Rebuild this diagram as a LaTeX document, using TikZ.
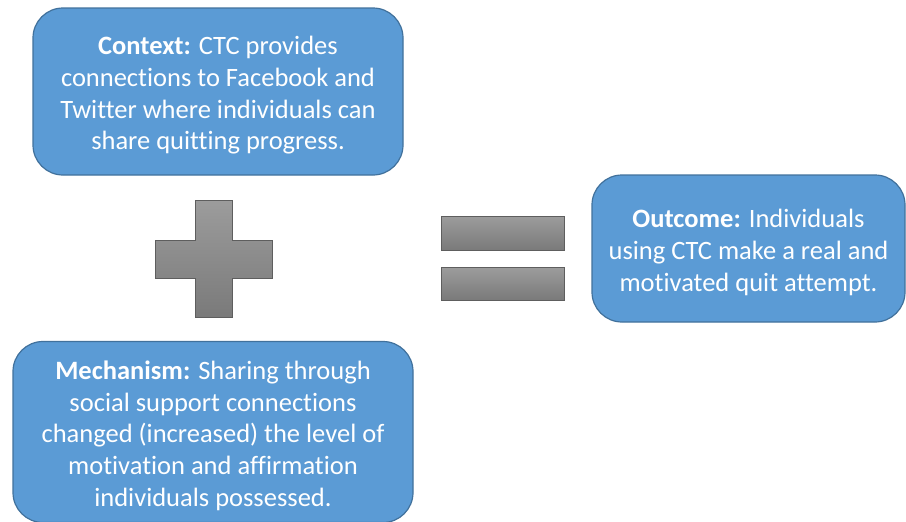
\documentclass[tikz,border=0pt]{standalone}
\usepackage{fontspec}
\setmainfont{Carlito}[Ligatures={NoCommon}]
% taller first line lowers the centred text block slightly
\newcommand{\toppad}{\rule{0pt}{26pt}}
\begin{document}
\begin{tikzpicture}[x=1pt,y=-1pt,
  infobox/.style={draw=boxedge, line width=1.2pt, fill=boxfill, rounded corners=30pt,
    text=white, align=center, inner sep=0pt, font=\fontsize{26.5}{31.8}\selectfont},
  opshape/.style={draw=opedge, line width=1pt, top color=optop, bottom color=opbottom}]
\definecolor{boxfill}{HTML}{5B9BD5}
\definecolor{boxedge}{HTML}{41719C}
\definecolor{optop}{HTML}{9C9C9C}
\definecolor{opbottom}{HTML}{7A7A7A}
\definecolor{opedge}{HTML}{5E5E5E}
\useasboundingbox (0,0) rectangle (906,522);

% context box
\node[infobox, minimum width=370pt, minimum height=167pt] (context) at (218,91.5)
  {\toppad\textbf{Context:} CTC provides\\connections to Facebook and\\Twitter where individuals can\\share quitting progress.};

% outcome box
\node[infobox, minimum width=313pt, minimum height=147pt] (outcome) at (748.5,248.5)
  {\toppad\textbf{Outcome:} Individuals\\using CTC make a real and\\motivated quit attempt.};

% mechanism box
\node[infobox, minimum width=400pt, minimum height=181pt] (mechanism) at (213,432)
  {\toppad\textbf{Mechanism:} Sharing through\\social support connections\\changed (increased) the level of\\motivation and affirmation\\individuals possessed.};

% plus sign
\path[opshape] (195,200) -- (232,200) -- (232,240) -- (272,240) -- (272,278) -- (232,278)
  -- (232,317) -- (195,317) -- (195,278) -- (155,278) -- (155,240) -- (195,240) -- cycle;

% equals sign
\path[opshape] (441,216) rectangle (564,250);
\path[opshape] (441,267) rectangle (564,300);
\end{tikzpicture}
\end{document}
